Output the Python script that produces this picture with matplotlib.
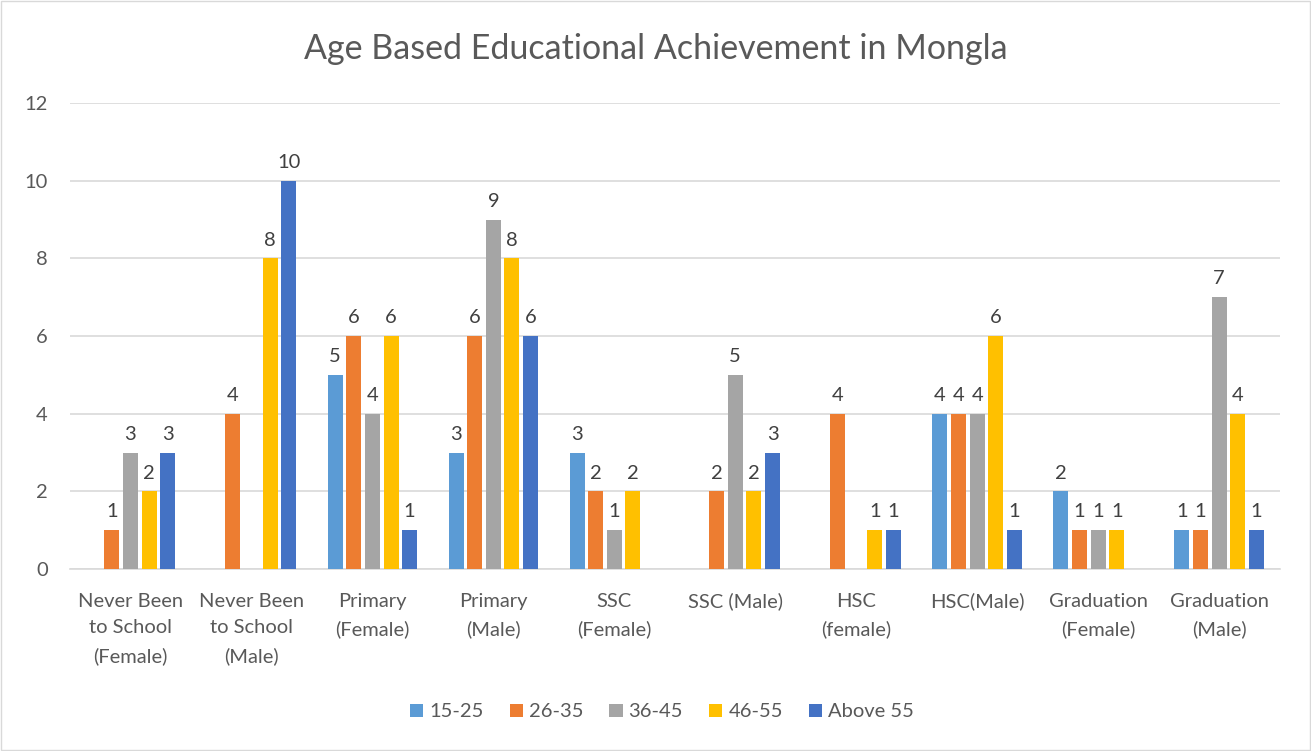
import numpy as np
import matplotlib.pyplot as plt

plt.rcParams['font.family'] = ['Lato', 'DejaVu Sans']

categories = ["Never Been\nto School\n(Female)", "Never Been\nto School\n(Male)",
              "Primary\n(Female)", "Primary\n(Male)", "SSC\n(Female)", "SSC (Male)",
              "HSC\n(female)", "HSC(Male)", "Graduation\n(Female)", "Graduation\n(Male)"]
age_groups = ["15-25", "26-35", "36-45", "46-55", "Above 55"]
nan = np.nan
v_15_25 = [nan, nan, 5, 3, 3, nan, nan, 4, 2, 1]
v_26_35 = [1, 4, 6, 6, 2, 2, 4, 4, 1, 1]
v_36_45 = [3, nan, 4, 9, 1, 5, nan, 4, 1, 7]
v_46_55 = [2, 8, 6, 8, 2, 2, 1, 6, 1, 4]
v_above_55 = [3, 10, 1, 6, nan, 3, 1, 1, nan, 1]
series = [v_15_25, v_26_35, v_36_45, v_46_55, v_above_55]
colors = ["#5B9BD5", "#ED7D31", "#A5A5A5", "#FFC000", "#4472C4"]

txt = "#595959"
fig = plt.figure(figsize=(13.11, 7.51), dpi=100)
fig.patches.append(plt.Rectangle((0.001, 0.001), 0.998, 0.998, transform=fig.transFigure,
                                 fill=False, edgecolor="#D9D9D9", linewidth=1))
ax = fig.add_axes([0.0534, 0.2423, 0.9226, 0.6205])

x = np.arange(len(categories))
pitch = 0.154
width = 0.124
for i, (vals, c, name) in enumerate(zip(series, colors, age_groups)):
    pos = x + (i - 2) * pitch
    bars = ax.bar(pos, vals, width=width, color=c, label=name, zorder=3)
    labels = ["" if np.isnan(v) else "%d" % v for v in vals]
    ax.bar_label(bars, labels=labels, padding=7, fontsize=14.5, color="#404040")

ax.set_xlim(-0.5, len(categories) - 0.5)
ax.set_ylim(0, 12)
ax.set_yticks(range(0, 13, 2))
ax.yaxis.grid(True, color="#D9D9D9", linewidth=1.2, zorder=0)
for s in ["top", "right", "left"]:
    ax.spines[s].set_visible(False)
ax.spines["bottom"].set_color("#D9D9D9")
ax.spines["bottom"].set_linewidth(1.2)
ax.tick_params(axis="y", length=0, labelsize=14.5, labelcolor=txt, pad=16)
ax.tick_params(axis="x", length=0, labelsize=14.5, labelcolor=txt, pad=17)
ax.set_xticks(x)
ax.set_xticklabels(categories, linespacing=1.7)

fig.text(0.5, 0.935, "Age Based Educational Achievement in Mongla", ha="center",
         va="center", fontsize=24.5, color=txt)
fig.legend(loc="center", bbox_to_anchor=(0.505, 0.052), ncol=5, frameon=False,
           fontsize=14.5, labelcolor=txt, handlelength=0.65, handleheight=0.65,
           handletextpad=0.3, columnspacing=1.3)

fig.savefig("out.png", dpi=100)
